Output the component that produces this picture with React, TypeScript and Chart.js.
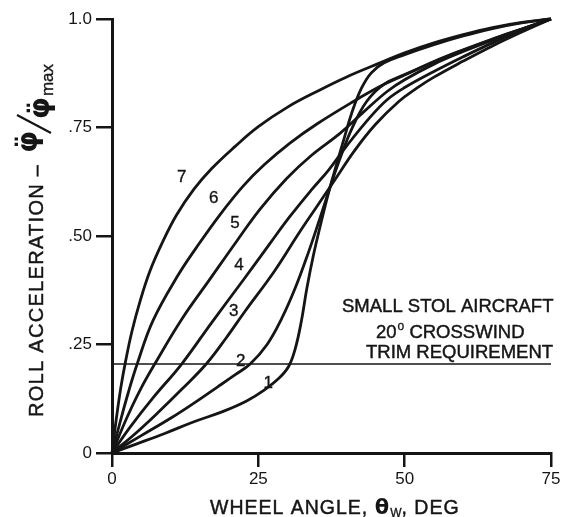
import React, { useEffect, useRef } from "react";
import { Chart, registerables } from "chart.js";

Chart.register(...registerables);

// ---- data ----
const xTickValues = [0, 25, 50, 75];
const yTickValues = [0, 0.25, 0.5, 0.75, 1.0];
const yTickLabels = ["0", ".25", ".50", ".75", "1.0"];

const curve1: [number, number][] = [
  [0, 0], [4, 0.02], [9, 0.045], [14, 0.072], [19, 0.096], [23, 0.12],
  [26, 0.145], [28.5, 0.172], [30.2, 0.2], [31.3, 0.24], [32.3, 0.3], [33.3, 0.38],
  [34.4, 0.455], [35.7, 0.53], [37, 0.6], [38.3, 0.662], [39.6, 0.722], [41, 0.785],
  [42.6, 0.84], [44.3, 0.876], [46.5, 0.899], [50, 0.918], [55, 0.941], [60, 0.961],
  [65, 0.978], [70, 0.991], [75, 1],
];
const curve2: [number, number][] = [
  [0, 0], [5, 0.04], [10, 0.08], [14, 0.115], [18, 0.152], [21, 0.18], [23.6, 0.205],
  [26.5, 0.25], [29, 0.31], [31.3, 0.38], [33.5, 0.46], [35.5, 0.54], [37.2, 0.61],
  [39, 0.68], [41, 0.748], [43.5, 0.81], [46.5, 0.85], [50, 0.872], [55, 0.901],
  [60, 0.928], [65, 0.953], [70, 0.977], [75, 1],
];
const curve3: [number, number][] = [
  [0, 0], [4, 0.045], [8, 0.095], [12, 0.148], [16.1, 0.205], [19.5, 0.265], [22.7, 0.326],
  [27.8, 0.42], [32, 0.508], [35, 0.568], [38, 0.628], [41.5, 0.698], [45, 0.757], [49, 0.81],
  [52, 0.84], [55, 0.866], [60, 0.903], [65, 0.938], [70, 0.97], [75, 1],
];
const curve4: [number, number][] = [
  [0, 0], [3, 0.058], [7, 0.127], [11.9, 0.205], [17, 0.3], [22.4, 0.398], [27, 0.483],
  [30.4, 0.545], [34, 0.605], [37, 0.652], [40, 0.706], [44, 0.772], [47, 0.814],
  [50, 0.842], [55, 0.879], [60, 0.913], [65, 0.945], [70, 0.974], [75, 1],
];
const curve5: [number, number][] = [
  [0, 0], [2.5, 0.08], [4.8, 0.145], [7.3, 0.205], [12, 0.31], [16.7, 0.4], [21.3, 0.488],
  [25.3, 0.562], [29.8, 0.632], [34, 0.685], [39, 0.737], [43, 0.786], [47, 0.833],
  [50, 0.86], [55, 0.896], [60, 0.925], [65, 0.951], [70, 0.976], [75, 1],
];
const curve6: [number, number][] = [
  [0, 0], [1.4, 0.072], [2.8, 0.14], [4.3, 0.205], [7, 0.305], [11.3, 0.41], [14.5, 0.475],
  [18.5, 0.55], [22.4, 0.615], [26, 0.664], [30.4, 0.714], [35, 0.758], [41, 0.808],
  [46, 0.846], [50, 0.871], [55, 0.902], [60, 0.929], [65, 0.954], [70, 0.977], [75, 1],
];
const curve7: [number, number][] = [
  [0, 0], [0.7, 0.075], [1.5, 0.15], [2.3, 0.21], [3.4, 0.28], [4.8, 0.35], [6.5, 0.42],
  [8.6, 0.485], [11, 0.548], [14, 0.608], [17, 0.655], [21, 0.706], [25, 0.752],
  [30, 0.797], [35, 0.833], [40, 0.866], [46, 0.9], [50, 0.922], [55, 0.945],
  [60, 0.964], [65, 0.98], [70, 0.992], [75, 1],
];
const curves = [curve1, curve2, curve3, curve4, curve5, curve6, curve7];

const trimLevel = 0.205;
const trimRange = [0, 75];

const curveLabels = ["1", "2", "3", "4", "5", "6", "7"];
const curveLabelX = [26.7, 22.0, 20.8, 21.7, 21.0, 17.4, 11.9];
const curveLabelY = [0.161, 0.212, 0.326, 0.433, 0.53, 0.586, 0.636];

const noteLine1 = "SMALL STOL AIRCRAFT";
const noteLine2a = "20";
const noteLine2b = "o";
const noteLine2c = " CROSSWIND";
const noteLine3 = "TRIM REQUIREMENT";

const xTitleA = "WHEEL ANGLE, ";
const xTitleTheta = "θ";
const xTitleSub = "W";
const xTitleB = ", DEG";

const yTitleA = "ROLL ACCELERATION – ";
const yTitlePhi = "φ̈";
const yTitleMax = "max";

// ---- styles ----
const INK = "#151515";
const SANS = "'Liberation Sans', Arial, Helvetica, sans-serif";

function boldText(ctx: any, t: string, x: number, y: number, w = 0.45) {
  ctx.fillText(t, x, y);
  ctx.lineWidth = w;
  ctx.strokeText(t, x, y);
}

const textPlugin = {
  id: "figureText",
  afterDraw(chart: any) {
    const { ctx } = chart;
    const xs = chart.scales.x;
    const ys = chart.scales.y;
    ctx.save();
    ctx.fillStyle = INK;
    ctx.strokeStyle = INK;

    // curve number labels
    ctx.font = `17px ${SANS}`;
    ctx.textAlign = "center";
    ctx.textBaseline = "middle";
    curveLabels.forEach((t, i) => {
      boldText(ctx, t, xs.getPixelForValue(curveLabelX[i]), ys.getPixelForValue(curveLabelY[i]), 0.35);
    });

    // note block
    ctx.textAlign = "left";
    ctx.textBaseline = "alphabetic";
    ctx.font = `18.5px ${SANS}`;
    boldText(ctx, noteLine1, 342, 312);
    let px = 376;
    boldText(ctx, noteLine2a, px, 338);
    px += ctx.measureText(noteLine2a).width + 1;
    ctx.font = `12px ${SANS}`;
    boldText(ctx, noteLine2b, px, 330, 0.3);
    px += ctx.measureText(noteLine2b).width;
    ctx.font = `18.5px ${SANS}`;
    boldText(ctx, noteLine2c, px, 338);
    boldText(ctx, noteLine3, 366, 358);

    // x title
    (ctx as any).letterSpacing = "1px";
    ctx.font = `19.5px ${SANS}`;
    let tx = 210;
    const base = 514;
    boldText(ctx, xTitleA, tx, base);
    tx += ctx.measureText(xTitleA).width;
    ctx.font = `bold 21px 'DejaVu Sans', sans-serif`;
    (ctx as any).letterSpacing = "0px";
    ctx.fillText(xTitleTheta, tx, base);
    tx += ctx.measureText(xTitleTheta).width + 1;
    ctx.font = `12px ${SANS}`;
    boldText(ctx, xTitleSub, tx, base + 3, 0.3);
    tx += ctx.measureText(xTitleSub).width;
    (ctx as any).letterSpacing = "1px";
    ctx.font = `19.5px ${SANS}`;
    boldText(ctx, xTitleB, tx, base);

    // y title (rotated)
    ctx.save();
    ctx.translate(43, 417);
    ctx.rotate(-Math.PI / 2);
    let ty = 0;
    (ctx as any).letterSpacing = "1.3px";
    ctx.font = `20px ${SANS}`;
    boldText(ctx, yTitleA, ty, 0);
    ty += ctx.measureText(yTitleA).width + 4;
    (ctx as any).letterSpacing = "0px";
    ctx.font = `bold 28px 'DejaVu Sans', sans-serif`;
    ctx.fillText(yTitlePhi, ty, -6);
    const phiW = ctx.measureText("φ").width;
    ty += phiW;
    ctx.lineWidth = 2.2;
    ctx.beginPath();
    ctx.moveTo(ty - 2, 8);
    ctx.lineTo(ty + 16, -26);
    ctx.stroke();
    ty += 12;
    ctx.fillText(yTitlePhi, ty, 6);
    ty += phiW + 1;
    ctx.font = `17px ${SANS}`;
    boldText(ctx, yTitleMax, ty, 10, 0.35);
    ctx.restore();

    ctx.restore();
  },
};

export default function App() {
  const ref = useRef<HTMLCanvasElement>(null);
  useEffect(() => {
    if (!ref.current) return;
    const datasets: any[] = curves.map((c, i) => ({
      label: `Curve ${i + 1}`,
      data: c.map(([x, y]) => ({ x, y })),
      borderColor: INK,
      borderWidth: 2.8,
      pointRadius: 0,
      fill: false,
      tension: 0.4,
      clip: false,
    }));
    datasets.push({
      label: "Trim requirement",
      data: trimRange.map((x) => ({ x, y: trimLevel })),
      borderColor: INK,
      borderWidth: 1.4,
      pointRadius: 0,
      fill: false,
      clip: false,
    });
    const chart = new Chart(ref.current, {
      type: "line",
      data: { datasets },
      options: {
        animation: false,
        responsive: false,
        events: [],
        layout: { padding: { top: 19, right: 14, left: 0, bottom: 0 } },
        plugins: { legend: { display: false }, tooltip: { enabled: false }, title: { display: false } },
        scales: {
          x: {
            type: "linear",
            min: 0,
            max: 75,
            afterBuildTicks: (s: any) => {
              s.ticks = xTickValues.map((v) => ({ value: v }));
            },
            afterFit: (s: any) => {
              s.height = 64;
            },
            ticks: {
              color: INK,
              font: { size: 17, family: SANS },
              padding: 2,
              maxRotation: 0,
              callback: (v: any) => String(v),
            },
            grid: { display: true, drawOnChartArea: false, drawTicks: true, tickLength: 14, color: INK, lineWidth: 2.5 },
            border: { display: true, color: INK, width: 3 },
          },
          y: {
            type: "linear",
            min: 0,
            max: 1,
            afterBuildTicks: (s: any) => {
              s.ticks = yTickValues.map((v) => ({ value: v }));
            },
            afterFit: (s: any) => {
              s.width = 112;
            },
            ticks: {
              color: INK,
              font: { size: 17, family: SANS },
              padding: 4,
              callback: (v: any) => {
                const i = yTickValues.indexOf(Number(v));
                return i >= 0 ? yTickLabels[i] : "";
              },
            },
            grid: { display: true, drawOnChartArea: false, drawTicks: true, tickLength: 16, color: INK, lineWidth: 2.5 },
            border: { display: true, color: INK, width: 3 },
          },
        },
      },
      plugins: [textPlugin],
    });
    return () => chart.destroy();
  }, []);
  return (
    <div style={{ position: "absolute", left: 0, top: 0, width: 565, height: 517, background: "#fff" }}>
      <canvas ref={ref} width={565} height={517} style={{ display: "block", width: 565, height: 517 }} />
    </div>
  );
}
